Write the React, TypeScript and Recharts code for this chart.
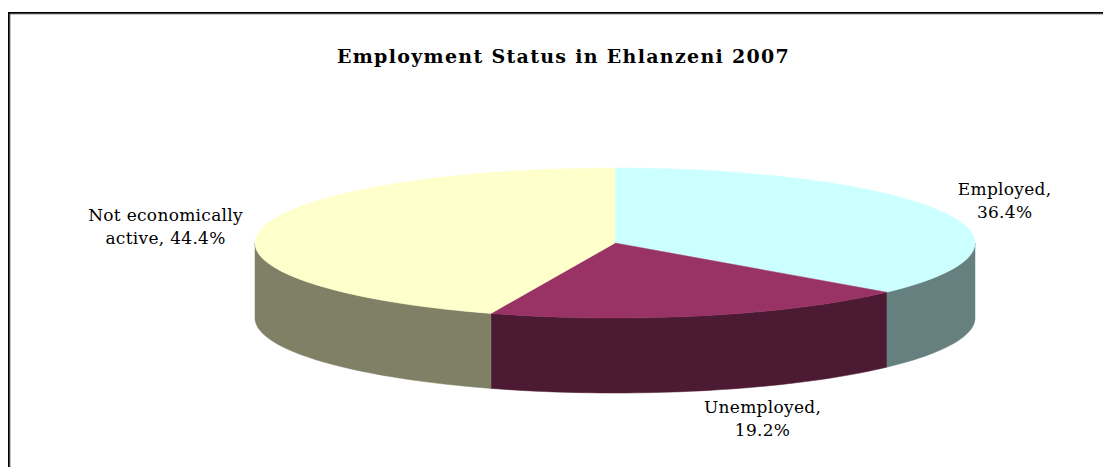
import React from 'react';
import { PieChart, Pie } from 'recharts';

const categories = ['Employed', 'Unemployed', 'Not economically active'];
const values = [36.4, 19.2, 44.4];
const labelLines = [
  ['Employed,', '36.4%'],
  ['Unemployed,', '19.2%'],
  ['Not economically', 'active, 44.4%'],
];
const title = 'Employment Status in Ehlanzeni 2007';

const topColors = ['#CCFFFF', '#993366', '#FFFFCC'];
const sideColors = ['#668080', '#4D1A33', '#808066'];
// label offsets (px) from the rim point at each slice's mid angle
const labelOffsets = [
  [62, -11],
  [58, 103],
  [-95, -3],
];

const data = categories.map((name, i) => ({ name, value: values[i] }));

const TILT = 75 / 360;
const DEPTH = 75;
const RAD = Math.PI / 180;
const FONT = '"DejaVu Serif", serif';

function pt(cx: number, cy: number, rx: number, ry: number, a: number) {
  return [cx + rx * Math.cos(a * RAD), cy - ry * Math.sin(a * RAD)];
}

function idxOf(props: any) {
  const name = props?.payload?.name ?? props?.name;
  const i = categories.indexOf(name);
  return i >= 0 ? i : props.index ?? 0;
}

function arcPoints(cx: number, cy: number, rx: number, ry: number, a0: number, a1: number, dy = 0) {
  const n = Math.max(2, Math.ceil(Math.abs(a1 - a0) / 1.5));
  const out: string[] = [];
  for (let i = 0; i <= n; i++) {
    const a = a0 + ((a1 - a0) * i) / n;
    const [x, y] = pt(cx, cy, rx, ry, a);
    out.push(`${x.toFixed(2)},${(y + dy).toFixed(2)}`);
  }
  return out;
}

function Slice3D(props: any) {
  const { cx, cy, outerRadius, startAngle, endAngle } = props;
  const i = idxOf(props);
  const rx = outerRadius;
  const ry = outerRadius * TILT;
  const lo = Math.min(startAngle, endAngle);
  const hi = Math.max(startAngle, endAngle);
  const top = `M${cx},${cy} L${arcPoints(cx, cy, rx, ry, lo, hi).join(' L')} Z`;
  const walls: string[] = [];
  for (let k = -2; k <= 1; k++) {
    const fa = k * 360 + 180;
    const fb = k * 360 + 360;
    const s = Math.max(lo, fa);
    const e = Math.min(hi, fb);
    if (e > s) {
      const upper = arcPoints(cx, cy, rx, ry, s, e);
      const lower = arcPoints(cx, cy, rx, ry, e, s, DEPTH);
      walls.push(`M${upper.join(' L')} L${lower.join(' L')} Z`);
    }
  }
  return (
    <g>
      {walls.map((d, j) => (
        <path key={j} d={d} fill={sideColors[i]} stroke={sideColors[i]} strokeWidth={0.5} />
      ))}
      <path d={top} fill={topColors[i]} stroke={topColors[i]} strokeWidth={0.5} />
    </g>
  );
}

function renderLabel(props: any) {
  const { cx, cy, outerRadius, midAngle } = props;
  const i = idxOf(props);
  const [x0, y0] = pt(cx, cy, outerRadius, outerRadius * TILT, midAngle);
  const x = x0 + labelOffsets[i][0];
  const y = y0 + labelOffsets[i][1];
  const lines = labelLines[i];
  return (
    <text x={x} y={y} textAnchor="middle" fontFamily={FONT} fontSize={17} letterSpacing={0.3} fill="#000">
      <tspan x={x} y={y - 6}>{lines[0]}</tspan>
      <tspan x={x} y={y + 17}>{lines[1]}</tspan>
    </text>
  );
}

export default function App() {
  return (
    <div style={{ position: 'absolute', left: 0, top: 0, width: 1103, height: 467, overflow: 'hidden', background: '#fff' }}>
      <svg width={1103} height={467} style={{ position: 'absolute', left: 0, top: 0 }}>
        <path d="M9,467 L9,13 L1103,13" fill="none" stroke="#000" strokeWidth={2} />
        <path d="M10,467 L10,14 L1103,14" fill="none" stroke="#888" strokeWidth={1} />
        <text x={563.5} y={63} textAnchor="middle" fontFamily={FONT} fontWeight="bold" fontSize={19} letterSpacing={1.3} fill="#000">
          {title}
        </text>
      </svg>
      <div style={{ position: 'absolute', left: 0, top: 0 }}>
        <PieChart width={1103} height={467} margin={{ top: 0, right: 0, bottom: 0, left: 0 }}>
          <Pie
            data={data}
            dataKey="value"
            nameKey="name"
            cx={615}
            cy={243}
            outerRadius={360}
            startAngle={90}
            endAngle={-270}
            stroke="none"
            isAnimationActive={false}
            shape={Slice3D}
            activeShape={Slice3D}
            inactiveShape={Slice3D}
            label={renderLabel}
            labelLine={false}
          />
        </PieChart>
      </div>
    </div>
  );
}
